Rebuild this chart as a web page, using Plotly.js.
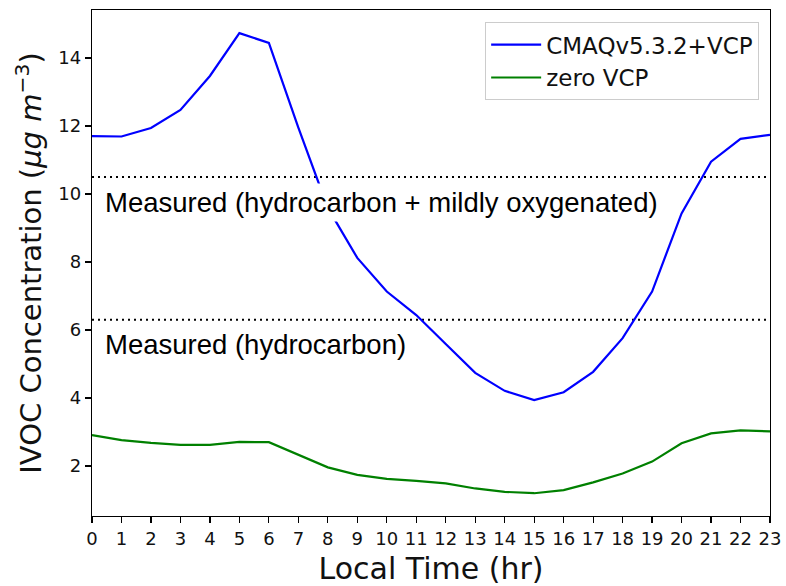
<!DOCTYPE html>
<html>
<head>
<meta charset="utf-8">
<script src="https://cdn.plot.ly/plotly-3.0.1.min.js"></script>
<style>html,body{margin:0;padding:0;background:#fff}#chart{width:786px;height:586px}</style>
</head>
<body>
<div id="chart"></div>
<script>
const hours = [0,1,2,3,4,5,6,7,8,9,10,11,12,13,14,15,16,17,18,19,20,21,22,23];
const cmaqVCP = [11.70,11.69,11.94,12.47,13.47,14.73,14.44,11.95,9.59,8.12,7.13,6.44,5.59,4.74,4.21,3.94,4.17,4.77,5.76,7.13,9.43,10.95,11.62,11.74];
const zeroVCP = [2.91,2.76,2.68,2.62,2.62,2.71,2.70,2.32,1.96,1.74,1.62,1.56,1.49,1.34,1.24,1.20,1.29,1.52,1.78,2.13,2.67,2.96,3.05,3.02];
const seriesNames = ["CMAQv5.3.2+VCP", "zero VCP"];
const measuredLevels = [10.5, 6.3];
const measuredLabels = ["Measured (hydrocarbon + mildly oxygenated)", "Measured (hydrocarbon)"];
const measuredLabelY = [9.76, 5.56];
const yTicks = [2,4,6,8,10,12,14];

const traces = [];
measuredLevels.forEach(v => {
  traces.push({x:[hours[0], hours[hours.length-1]], y:[v, v], mode:'lines', showlegend:false,
    line:{color:'#000', width:2, dash:'2px,4px'}, hoverinfo:'skip'});
});
traces.push({x:hours, y:cmaqVCP, name:seriesNames[0], mode:'lines', line:{color:'#0000ff', width:2.2}});
traces.push({x:hours, y:zeroVCP, name:seriesNames[1], mode:'lines', line:{color:'#008000', width:2.2}});

const annotations = measuredLabels.map((t,i) => ({
  x:0.3, y:measuredLabelY[i], xref:'x', yref:'y', text:t, showarrow:false,
  xanchor:'left', yanchor:'middle', bgcolor:'#ffffff', borderpad:3,
  font:{family:'Liberation Sans, Arial, sans-serif', size:27.5, color:'#000'}
}));

const layout = {
  width:786, height:586,
  margin:{l:92, r:16, t:10, b:70},
  paper_bgcolor:'#fff', plot_bgcolor:'#fff',
  font:{family:'DejaVu Sans, sans-serif', color:'#000'},
  xaxis:{range:[0,23], tickvals:hours, ticktext:hours.map(String), ticks:'outside', ticklen:6, tickwidth:1.2,
    tickcolor:'#000', showgrid:false, zeroline:false, showline:true, linecolor:'#000', linewidth:1.2, mirror:true,
    tickfont:{size:18, color:'#111'},
    title:{text:'Local Time (hr)', font:{size:30, color:'#111'}, standoff:10}},
  yaxis:{range:[0.53,15.41], tickvals:yTicks, ticks:'outside', ticklen:6, tickwidth:1.2, tickcolor:'#000',
    showgrid:false, zeroline:false, showline:true, linecolor:'#000', linewidth:1.2, mirror:true,
    tickfont:{size:18, color:'#111'},
    title:{text:'IVOC Concentration (<i>μg m</i><sup>−3</sup>)', font:{size:29, color:'#111'}, standoff:8}},
  legend:{x:0.984, y:0.976, xanchor:'right', yanchor:'top', bgcolor:'rgba(255,255,255,0.8)',
    bordercolor:'#cccccc', borderwidth:1, font:{size:23, color:'#111'}, itemwidth:50, tracegroupgap:0},
  annotations:annotations,
  showlegend:true
};
Plotly.newPlot('chart', traces, layout, {displayModeBar:false, staticPlot:true});
</script>
</body>
</html>
